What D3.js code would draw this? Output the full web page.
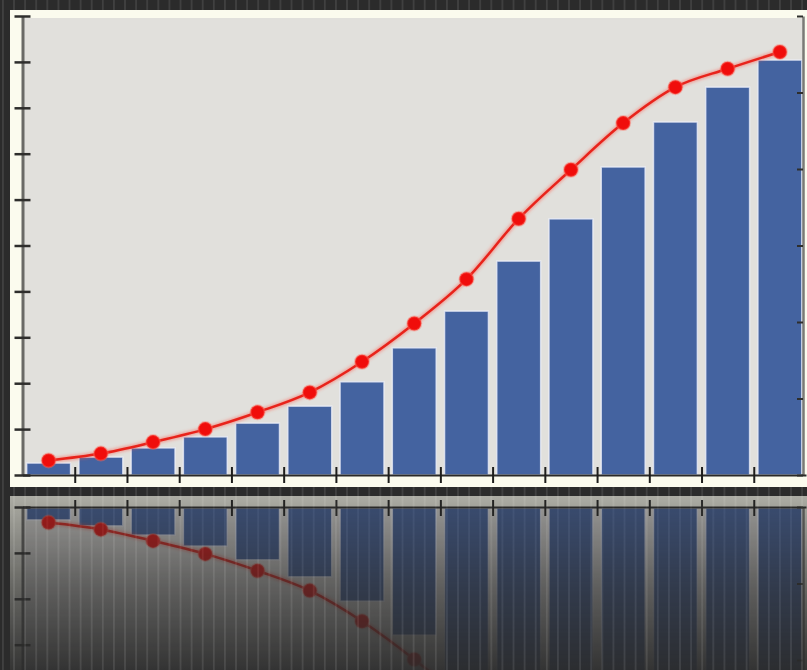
<!DOCTYPE html>
<html>
<head>
<meta charset="utf-8">
<script src="https://cdn.jsdelivr.net/npm/d3@7/dist/d3.min.js"></script>
<style>
html, body { margin: 0; padding: 0; background: #2c2c2c; overflow: hidden; }
svg { display: block; }
</style>
</head>
<body>
<script>
// data
var categories = ['1', '2', '3', '4', '5', '6', '7', '8', '9', '10', '11', '12', '13', '14', '15'];
var bar_values = [2.6, 3.9, 5.9, 8.3, 11.3, 15.0, 20.3, 27.7, 35.7, 46.6, 55.8, 67.1, 76.9, 84.5, 90.4];   // left axis
var line_values = [1.9, 2.8, 4.3, 6.0, 8.2, 10.8, 14.8, 19.8, 25.6, 33.5, 39.9, 46.0, 50.7, 53.1, 55.3]; // right axis
var left_ticks = [0, 10, 20, 30, 40, 50, 60, 70, 80, 90, 100];
var right_ticks = [0, 10, 20, 30, 40, 50, 60];

var width = 807, height = 670;
var plot_left = 22.5, plot_right = 806, plot_top = 16, plot_bottom = 475;
var mirror_y = 983;   //倒影的对称轴 *2

var svg = d3.select('body')
    .append('svg')
    .attr('width', width)
    .attr('height', height);

var defs = svg.append('defs');

// 背景竖条纹
var pattern = defs.append('pattern')
    .attr('id', 'stripes')
    .attr('patternUnits', 'userSpaceOnUse')
    .attr('x', 2)
    .attr('width', 11.1)
    .attr('height', 20);
pattern.append('rect')
    .attr('width', 11.1)
    .attr('height', 20)
    .attr('fill', '#2b2b2b');
pattern.append('rect')
    .attr('width', 1.8)
    .attr('height', 20)
    .attr('fill', '#404040');

// 倒影渐隐
var fade_grad = defs.append('linearGradient')
    .attr('id', 'fade_grad')
    .attr('gradientUnits', 'userSpaceOnUse')
    .attr('x1', 0).attr('y1', 496)
    .attr('x2', 0).attr('y2', 670);
fade_grad.append('stop').attr('offset', 0).attr('stop-color', '#fff').attr('stop-opacity', 0.62);
fade_grad.append('stop').attr('offset', 0.5).attr('stop-color', '#fff').attr('stop-opacity', 0.3);
fade_grad.append('stop').attr('offset', 1).attr('stop-color', '#fff').attr('stop-opacity', 0.05);

defs.append('mask')
    .attr('id', 'fade')
    .attr('maskUnits', 'userSpaceOnUse')
    .attr('x', 0).attr('y', 0).attr('width', width).attr('height', height)
    .append('rect')
    .attr('x', 0)
    .attr('y', 492)
    .attr('width', width)
    .attr('height', height - 492)
    .attr('fill', 'url(#fade_grad)');

var glow = defs.append('filter')
    .attr('id', 'glow')
    .attr('x', '-50%').attr('y', '-50%')
    .attr('width', '200%').attr('height', '200%');
glow.append('feGaussianBlur').attr('stdDeviation', 1.5);

svg.append('rect')
    .attr('width', width)
    .attr('height', height)
    .attr('fill', 'url(#stripes)');

// scales
var x = d3.scaleBand()
    .domain(categories)
    .range([plot_left, plot_right])
    .paddingInner(0.16)
    .paddingOuter(0.08);
var x_idx = d3.scaleLinear()
    .domain([0, categories.length])
    .range([plot_left, plot_right]);
var y_left = d3.scaleLinear()
    .domain([0, 100])
    .range([plot_bottom, plot_top]);
var y_right = d3.scaleLinear()
    .domain([0, 60])
    .range([plot_bottom, plot_top]);

var chart = svg.append('g').attr('id', 'chart');

// 面板
chart.append('rect')
    .attr('x', 10)
    .attr('y', 10)
    .attr('width', 820)
    .attr('height', 477)
    .attr('fill', '#fbfbee');
chart.append('rect')
    .attr('x', plot_left)
    .attr('y', plot_top + 2)
    .attr('width', 803 - plot_left)
    .attr('height', plot_bottom - plot_top - 2)
    .attr('fill', '#e1e0dc');

// 柱子
chart.selectAll('.bar')
    .data(bar_values)
    .enter()
    .append('rect')
    .attr('class', 'bar')
    .attr('x', function(d, i) { return x(categories[i]); })
    .attr('y', function(d) { return y_left(d); })
    .attr('width', x.bandwidth())
    .attr('height', function(d) { return plot_bottom - y_left(d); })
    .attr('fill', '#4463a0')
    .attr('stroke', '#eef0fb')
    .attr('stroke-opacity', 0.75)
    .attr('stroke-width', 1.5);

// 左轴
var left_axis = chart.append('g')
    .attr('transform', 'translate(' + plot_left + ',0)')
    .call(d3.axisLeft(y_left).tickValues(left_ticks).tickSize(8).tickSizeOuter(0).tickFormat(''));
left_axis.select('.domain')
    .attr('stroke', '#6a6a66')
    .attr('stroke-width', 3);
left_axis.selectAll('.tick line')
    .attr('x1', 8)
    .attr('stroke', '#2e2e2c')
    .attr('stroke-width', 2.5);

// 右轴
var right_axis = chart.append('g')
    .attr('transform', 'translate(803,0)')
    .call(d3.axisLeft(y_right).tickValues(right_ticks).tickSize(6).tickSizeOuter(0).tickFormat(''));
right_axis.select('.domain')
    .attr('stroke', '#7a7a76')
    .attr('stroke-width', 2.5);
right_axis.selectAll('.tick line')
    .attr('stroke', '#2e2e2c')
    .attr('stroke-width', 2);

// 底轴，刻度在柱子之间
var bottom_axis = chart.append('g')
    .attr('transform', 'translate(0,' + plot_bottom + ')')
    .call(d3.axisBottom(x_idx).tickValues(d3.range(1, categories.length)).tickSize(8).tickSizeOuter(0).tickFormat(''));
bottom_axis.select('.domain')
    .attr('stroke', '#2a2a28')
    .attr('stroke-width', 2);
bottom_axis.selectAll('.tick line')
    .attr('y1', -8)
    .attr('stroke', '#1e1e1c')
    .attr('stroke-width', 2);

// 折线
var line = d3.line()
    .x(function(d, i) { return x(categories[i]) + x.bandwidth() / 2; })
    .y(function(d) { return y_right(d); })
    .curve(d3.curveMonotoneX);

chart.append('path')
    .datum(line_values)
    .attr('d', line)
    .attr('fill', 'none')
    .attr('stroke', '#ff5040')
    .attr('stroke-opacity', 0.45)
    .attr('stroke-width', 5)
    .attr('filter', 'url(#glow)');
chart.append('path')
    .datum(line_values)
    .attr('d', line)
    .attr('fill', 'none')
    .attr('stroke', '#e8231b')
    .attr('stroke-width', 2.5);

chart.selectAll('.dot')
    .data(line_values)
    .enter()
    .append('circle')
    .attr('class', 'dot')
    .attr('cx', function(d, i) { return x(categories[i]) + x.bandwidth() / 2; })
    .attr('cy', function(d) { return y_right(d); })
    .attr('r', 7)
    .attr('fill', '#f00d0b')
    .attr('stroke', '#ff6a5a')
    .attr('stroke-opacity', 0.4)
    .attr('stroke-width', 2);

// 倒影
svg.append('g')
    .attr('mask', 'url(#fade)')
    .append('use')
    .attr('href', '#chart')
    .attr('transform', 'translate(0,' + mirror_y + ') scale(1,-1)');
</script>
</body>
</html>
